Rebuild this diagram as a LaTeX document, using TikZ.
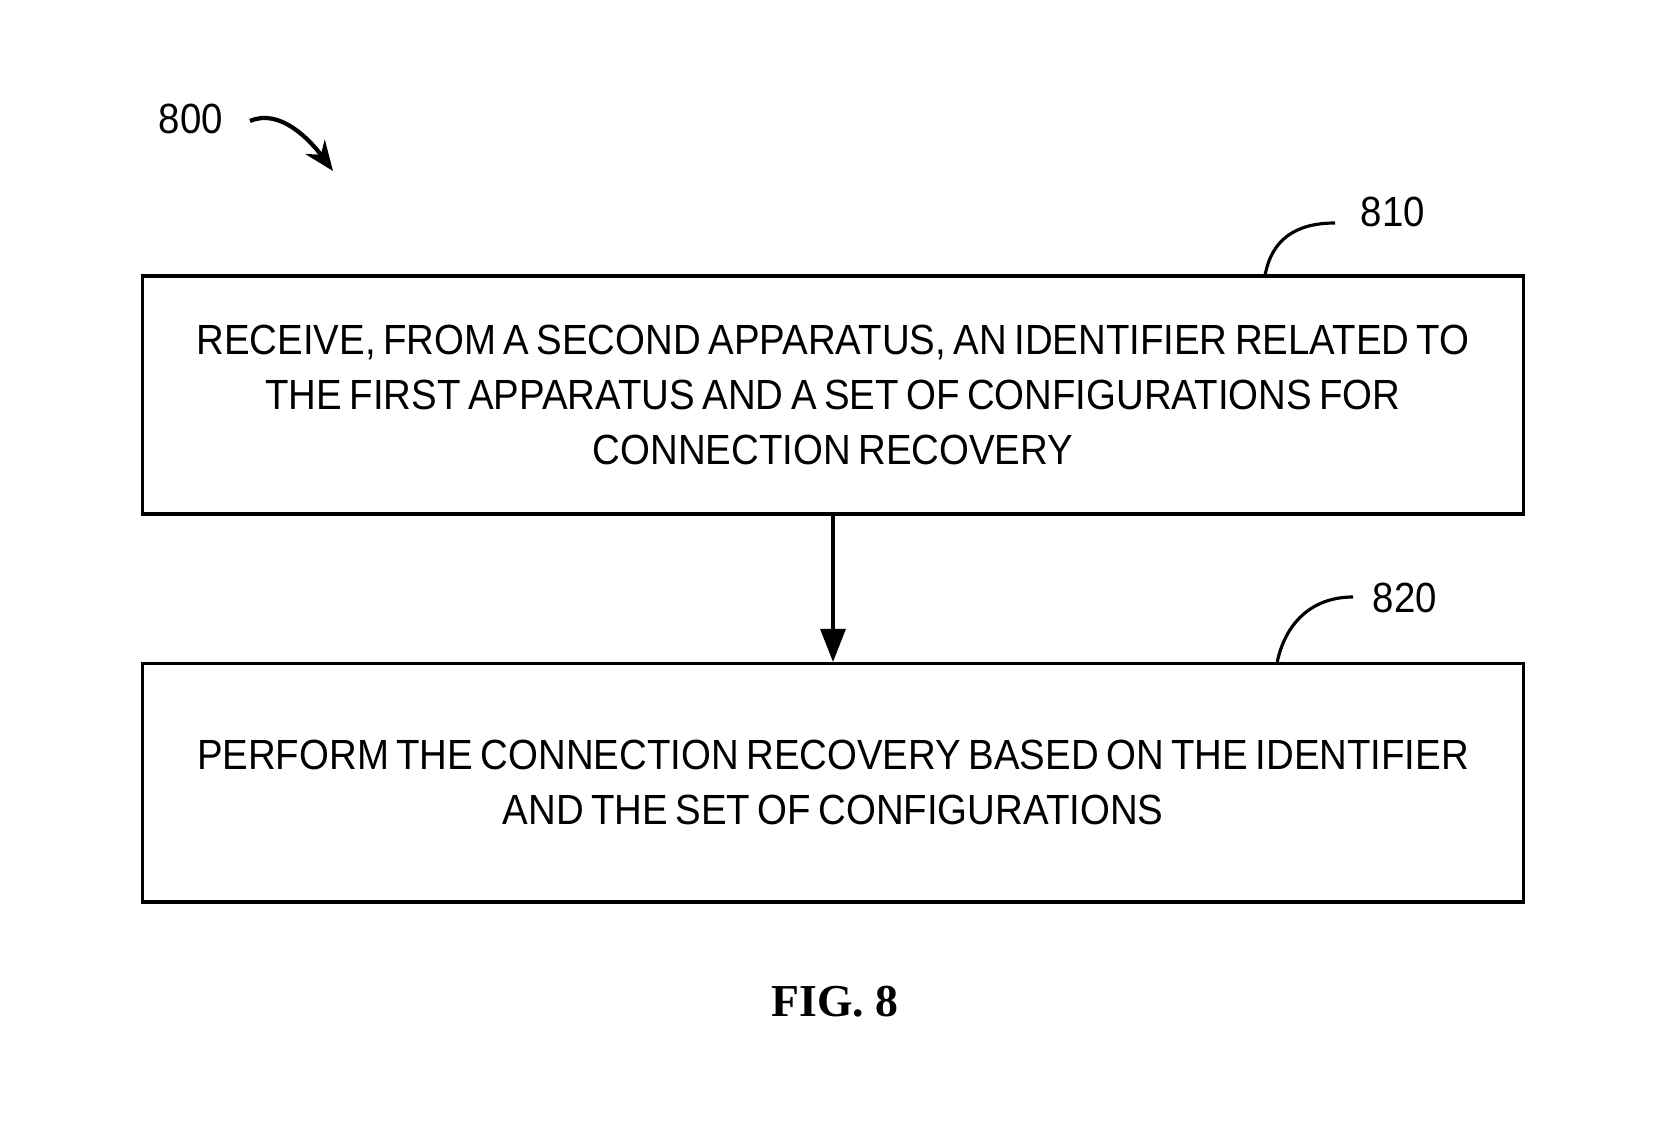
\documentclass[tikz,border=0pt]{standalone}
\usepackage{fontspec}
\setmainfont{Liberation Sans}[FakeStretch=0.91,WordSpace=0.7]
\newfontfamily\figfont{Liberation Serif}
\usetikzlibrary{arrows.meta,positioning}

\tikzset{
  stepbox/.style={draw,line width=1pt,minimum width=13.8cm,minimum height=2.38cm,
    align=center,font=\fontsize{12}{15.6}\selectfont},
  refnum/.style={font=\fontsize{12}{14}\selectfont},
  leader/.style={line width=0.9pt}
}

\begin{document}
\begin{tikzpicture}[x=0.01cm,y=-0.01cm,node distance=1.46cm]
  \useasboundingbox (0,0) rectangle (1663,1140);
  \node[stepbox]  (box_810) at (833,395)
    {RECEIVE, FROM A SECOND APPARATUS, AN IDENTIFIER RELATED TO\\
     THE FIRST APPARATUS AND A SET OF CONFIGURATIONS FOR\\
     CONNECTION RECOVERY};
  \node[stepbox]  (box_820) [below=of box_810]
    {PERFORM THE CONNECTION RECOVERY BASED ON THE IDENTIFIER\\
     AND THE SET OF CONFIGURATIONS};
  \draw[line width=0.9pt,-{Triangle[length=0.33cm,width=0.25cm]}] (box_810) -- (box_820);

  % reference numerals
  \node[refnum] (n_800) at (191,119) {800};
  \node[refnum] (n_810) at (1393,212) {810};
  \node[refnum] (n_820) at (1405,598) {820};
  \coordinate (c_800a) at (250,121);
  \coordinate (c_800b) at (333,171);
  \draw[line width=1.2pt,-{Stealth[length=0.3cm,width=0.24cm]}]
    (c_800a) .. controls (280,108) and (310,140) .. (c_800b);
  \coordinate (c_810) at (1335,223);
  \coordinate (c_820) at (1353,597);
  \draw[leader] ([xshift=4.32cm]box_810.north) .. controls (1272,240) and (1295,223) .. (c_810);
  \draw[leader] ([xshift=4.44cm]box_820.north) .. controls (1285,625) and (1310,597) .. (c_820);

  \node (fig) at (835,1002) {\figfont\bfseries\fontsize{13}{15}\selectfont FIG. 8};
\end{tikzpicture}
\end{document}
